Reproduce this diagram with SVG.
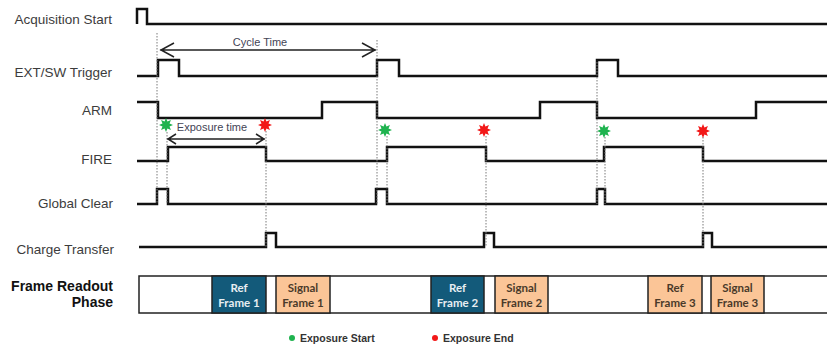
<svg xmlns="http://www.w3.org/2000/svg" xmlns:xlink="http://www.w3.org/1999/xlink" width="827" height="349" viewBox="0 0 827 349">
  <style>
    .lbl { font-family: "Liberation Sans", Arial, sans-serif; font-size: 13.5px; fill: #3c3c3c; text-anchor: end; }
    .phase { font-family: "Liberation Sans", Arial, sans-serif; font-size: 14px; font-weight: bold; fill: #111; text-anchor: end; }
    .sig { fill: none; stroke: #111; stroke-width: 2.5; stroke-linejoin: miter; }
    .guide { fill: none; stroke: #7a7a7a; stroke-width: 1; stroke-dasharray: 1.5 1.5; }
    .dim { fill: none; stroke: #222; stroke-width: 1.5; }
    .dimtxt { font-family: "Liberation Sans", Arial, sans-serif; font-size: 11px; fill: #444455; text-anchor: middle; }
    .frame { stroke: #222; stroke-width: 1.5; }
    .ref { fill: #135a7a; }
    .sigf { fill: #fbc597; }
    .ftxt { font-family: Lato, "Open Sans", sans-serif; font-size: 11.5px; font-weight: bold; text-anchor: middle; }
    .ftxt-light { fill: #e8eef2; }
    .ftxt-dark { fill: #4a3a2a; }
    .legend { font-family: "Liberation Sans", Arial, sans-serif; font-size: 10.5px; font-weight: bold; fill: #333; }
  </style>
  <defs>
    <polygon id="star" points="0,-7 1.45,-3.5 4.95,-4.95 3.5,-1.45 7,0 3.5,1.45 4.95,4.95 1.45,3.5 0,7 -1.45,3.5 -4.95,4.95 -3.5,1.45 -7,0 -3.5,-1.45 -4.95,-4.95 -1.45,-3.5"/>
  </defs>

  <rect x="0" y="0" width="827" height="349" fill="#fff"/>

  <!-- signal rows -->
  <g id="acq-start">
    <text class="lbl" x="112" y="24">Acquisition Start</text>
    <path class="sig" d="M137,24 V9 H147 V24 H827"/>
  </g>
  <g id="trigger">
    <text class="lbl" x="112" y="77">EXT/SW Trigger</text>
    <path class="sig" d="M137,76 H158 V60 H179 V76 H377 V60 H399 V76 H597 V60 H618 V76 H827"/>
  </g>
  <g id="arm">
    <text class="lbl" x="112" y="115">ARM</text>
    <path class="sig" d="M137,102 H158 V118 H322 V102 H377 V118 H540 V102 H597 V118 H756 V102 H827"/>
  </g>
  <g id="fire">
    <text class="lbl" x="112" y="164">FIRE</text>
    <path class="sig" d="M137,161 H168 V147 H266 V161 H387 V147 H486 V161 H604 V147 H703 V161 H827"/>
  </g>
  <g id="global-clear">
    <text class="lbl" x="113" y="208">Global Clear</text>
    <path class="sig" d="M137,204 H157 V189 H168 V204 H376 V189 H387 V204 H597 V189 H605 V204 H827"/>
  </g>
  <g id="charge-transfer">
    <text class="lbl" x="114" y="254">Charge Transfer</text>
    <path class="sig" d="M139,247 H266 V233 H276 V247 H484 V233 H494 V247 H703 V233 H712 V247 H827"/>
  </g>

  <!-- readout phase strip -->
  <g id="readout">
    <text class="phase" x="113" y="291">Frame Readout</text>
    <text class="phase" x="113" y="307">Phase</text>
    <rect class="frame" x="139" y="276" width="700" height="37" fill="#fff"/>
    <g id="ref1">
      <rect class="frame ref" x="212" y="276" width="54" height="37"/>
      <text class="ftxt ftxt-light" x="239" y="292">Ref</text>
      <text class="ftxt ftxt-light" x="239" y="307">Frame 1</text>
    </g>
    <g id="sig1">
      <rect class="frame sigf" x="276" y="276" width="54" height="37"/>
      <text class="ftxt ftxt-dark" x="303" y="292">Signal</text>
      <text class="ftxt ftxt-dark" x="303" y="307">Frame 1</text>
    </g>
    <g id="ref2">
      <rect class="frame ref" x="431" y="276" width="53" height="37"/>
      <text class="ftxt ftxt-light" x="457.5" y="292">Ref</text>
      <text class="ftxt ftxt-light" x="457.5" y="307">Frame 2</text>
    </g>
    <g id="sig2">
      <rect class="frame sigf" x="495" y="276" width="53" height="37"/>
      <text class="ftxt ftxt-dark" x="521.5" y="292">Signal</text>
      <text class="ftxt ftxt-dark" x="521.5" y="307">Frame 2</text>
    </g>
    <g id="ref3">
      <rect class="frame sigf" x="648" y="276" width="54" height="37"/>
      <text class="ftxt ftxt-dark" x="675" y="292">Ref</text>
      <text class="ftxt ftxt-dark" x="675" y="307">Frame 3</text>
    </g>
    <g id="sig3">
      <rect class="frame sigf" x="711" y="276" width="53" height="37"/>
      <text class="ftxt ftxt-dark" x="737.5" y="292">Signal</text>
      <text class="ftxt ftxt-dark" x="737.5" y="307">Frame 3</text>
    </g>
  </g>

  <!-- timing guides and dimension arrows -->
  <g id="connectors">
    <path class="guide" d="M157,33 V204 M167,132 V204 M266,131 V247 M377,40 V204 M387,136 V204 M486,136 V247 M597,62 V204 M605,137 V204 M703,137 V247"/>
    <path class="dim" d="M160,50 H376 M174,43 L161,50 L174,57 M362,43 L375,50 L362,57"/>
    <text class="dimtxt" x="260" y="46">Cycle Time</text>
    <path class="dim" d="M167,139 H265 M176,134 L168,139 L176,144 M256,134 L264,139 L256,144"/>
    <text class="dimtxt" x="212" y="131">Exposure time</text>
  </g>

  <!-- exposure start / end markers -->
  <g id="markers">
    <use xlink:href="#star" x="166" y="125" fill="#1fb34f"/>
    <use xlink:href="#star" x="265" y="125" fill="#f21818"/>
    <use xlink:href="#star" x="385" y="130" fill="#1fb34f"/>
    <use xlink:href="#star" x="484" y="130" fill="#f21818"/>
    <use xlink:href="#star" x="604" y="131" fill="#1fb34f"/>
    <use xlink:href="#star" x="703" y="131" fill="#f21818"/>
  </g>

  <!-- legend -->
  <g id="legend">
    <circle cx="292" cy="338" r="3" fill="#1fb34f"/>
    <text class="legend" x="300" y="342">Exposure  Start</text>
    <circle cx="435" cy="338" r="3" fill="#f21818"/>
    <text class="legend" x="443" y="342">Exposure  End</text>
  </g>
</svg>
